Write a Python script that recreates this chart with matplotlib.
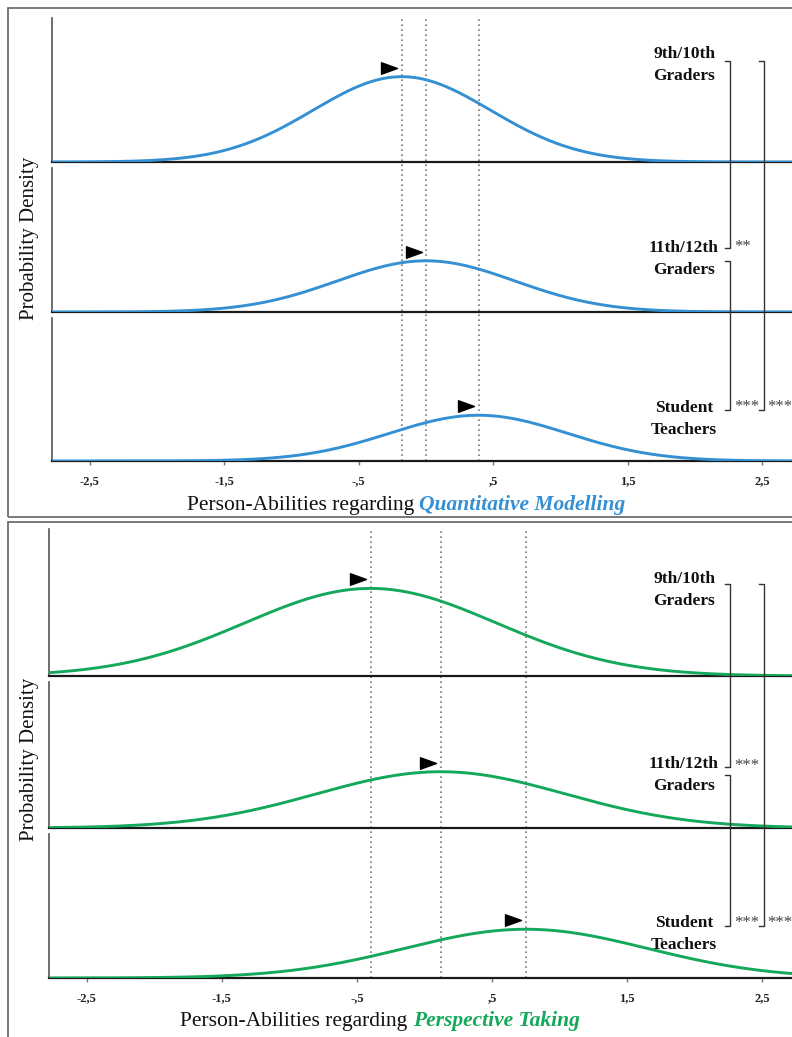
import numpy as np
import matplotlib
matplotlib.use("Agg")
import matplotlib.pyplot as plt
import matplotlib.transforms as mtransforms
from matplotlib.path import Path
from matplotlib.lines import Line2D
from matplotlib.patches import Rectangle
from matplotlib.offsetbox import TextArea, HPacker, AnnotationBbox

# ---- data -------------------------------------------------------------
groups = ["9th/10th\nGraders", "11th/12th\nGraders", "Student\nTeachers"]

qm_means = [-0.18, 0.00, 0.39]
qm_sds = [0.66, 0.66, 0.66]
qm_scale = [1.00, 0.60, 0.54]
qm_sig = ["**", "***", "***"]        # 9/10 vs 11/12, 11/12 vs ST, 9/10 vs ST

pt_means = [-0.40, 0.12, 0.75]
pt_sds = [0.93, 0.92, 0.90]
pt_scale = [1.00, 0.64, 0.55]
pt_sig = ["***", "***", "***"]

tick_values = [-2.5, -1.5, -0.5, 0.5, 1.5, 2.5]
tick_labels = ["-2,5", "-1,5", "-,5", ",5", "1,5", "2,5"]

# ---- figure ----------------------------------------------------------
W, H = 792, 1037
fig = plt.figure(figsize=(W / 100, H / 100), dpi=100)
SERIF = ["Liberation Serif", "DejaVu Serif"]


def fx(x):
    return x / W


def fy(y):
    return 1 - y / H


XLIM = (-2.78, 2.72)
tri = Path([(-1, 0.72), (1, 0), (-1, -0.72), (-1, 0.72)],
           [Path.MOVETO, Path.LINETO, Path.LINETO, Path.CLOSEPOLY])


def normal_pdf(x, m, s):
    return np.exp(-0.5 * ((x - m) / s) ** 2) / (s * np.sqrt(2 * np.pi))


def bracket(x, y0, y1, tick=5):
    xs = [fx(x - tick), fx(x), fx(x), fx(x - tick)]
    ys = [fy(y0), fy(y0), fy(y1), fy(y1)]
    fig.add_artist(Line2D(xs, ys, transform=fig.transFigure,
                          color="#333333", lw=1.0))


def panel(cfg, means, sds, scale, sig, color, topic):
    left = cfg["left"]
    rows = cfg["rows"]
    # overlay axes holding the dotted mean markers across all three rows
    ov = fig.add_axes([fx(left), fy(rows[-1][1]), 1 - fx(left),
                       fy(rows[0][0]) - fy(rows[-1][1])])
    ov.set_xlim(XLIM)
    ov.set_ylim(0, 1)
    ov.axis("off")
    for m in means:
        ov.axvline(m, color="#777777", lw=1.2, ls=(0, (1, 2.0)))

    x = np.linspace(XLIM[0], XLIM[1], 600)
    for i, (top, bot) in enumerate(rows):
        ax = fig.add_axes([fx(left), fy(bot), 1 - fx(left), fy(top) - fy(bot)])
        ax.patch.set_visible(False)
        ax.set_xlim(XLIM)
        ax.set_ylim(0, cfg["ymax"])
        for s in ("top", "right"):
            ax.spines[s].set_visible(False)
        ax.spines["left"].set_color("#555555")
        ax.spines["left"].set_linewidth(1.2)
        ax.spines["bottom"].set_color("#1a1a1a")
        ax.spines["bottom"].set_linewidth(1.6)
        ax.set_yticks([])
        y = scale[i] * normal_pdf(x, means[i], sds[i])
        ax.plot(x, y, color=color, lw=2.1, solid_capstyle="butt", zorder=3)
        peak = scale[i] * normal_pdf(means[i], means[i], sds[i])
        off = mtransforms.offset_copy(ax.transData, fig=fig, x=-9.0, y=6.5,
                                      units="points")
        ax.plot([means[i]], [peak], marker=tri, color="black", ms=11.5,
                transform=off, clip_on=False, zorder=4)
        if i < 2:
            ax.set_xticks([])
        else:
            ax.set_xticks(tick_values)
            ax.set_xticklabels(tick_labels, fontfamily=SERIF,
                               fontweight="bold", fontsize=9, color="#222222")
            ax.tick_params(axis="x", direction="out", length=3, width=1,
                           color="#777777", pad=7.5)

    # y label
    fig.text(fx(30), fy(cfg["ylabel_y"]), "Probability Density", rotation=90,
             ha="center", va="center", fontfamily=SERIF, fontsize=15,
             color="#111111")

    # x label with the coloured topic
    t1 = TextArea("Person-Abilities regarding ",
                  textprops=dict(fontfamily=SERIF, fontsize=15.5,
                                 color="#111111"))
    t2 = TextArea(topic, textprops=dict(fontfamily=SERIF, fontsize=15.5,
                                        color=color, fontweight="bold",
                                        fontstyle="italic"))
    box = HPacker(children=[t1, t2], align="baseline", pad=0, sep=0)
    fig.add_artist(AnnotationBbox(box, (fx(cfg["xlabel"][0]), fy(cfg["xlabel"][1])),
                                  xycoords="figure fraction", frameon=False,
                                  box_alignment=(0.5, 0.5)))

    # group labels
    for name, yc in zip(groups, cfg["label_y"]):
        fig.text(fx(684), fy(yc), name, ha="center", va="center",
                 fontfamily=SERIF, fontweight="bold", fontsize=12.5,
                 linespacing=1.45, color="#111111")

    # significance brackets
    b = cfg["brackets"]
    bracket(730, b[0], b[1])
    bracket(730, b[2], b[3])
    bracket(764, b[0], b[3])
    star_kw = dict(ha="left", va="center", fontfamily=SERIF, fontsize=12,
                   color="#444444")
    fig.text(fx(734), fy(b[1] - 1), sig[0], **star_kw)
    fig.text(fx(734), fy(b[3] - 3), sig[1], **star_kw)
    fig.text(fx(767), fy(b[3] - 3), sig[2], **star_kw)


top_cfg = dict(left=52, rows=[(18, 162), (168, 312), (318, 461)], ymax=1.02,
               ylabel_y=238, xlabel=(406, 505), label_y=[65, 259, 419],
               brackets=[61, 248, 261, 410])
bot_cfg = dict(left=49, rows=[(529, 676), (682, 828), (834, 978)], ymax=0.72,
               ylabel_y=759, xlabel=(380, 1021), label_y=[590, 775, 934],
               brackets=[584, 767, 775, 926])

panel(top_cfg, qm_means, qm_sds, qm_scale, qm_sig, "#3490d2",
      "Quantitative Modelling")
panel(bot_cfg, pt_means, pt_sds, pt_scale, pt_sig, "#14a85a",
      "Perspective Taking")

# outer frames around both panels
fig.add_artist(Rectangle((fx(8), fy(517)), 1.0, fy(8) - fy(517),
                         transform=fig.transFigure, fill=False,
                         ec="#6e6e6e", lw=1.3))
fig.add_artist(Rectangle((fx(8), -0.05), 1.0, fy(522) + 0.05,
                         transform=fig.transFigure, fill=False,
                         ec="#6e6e6e", lw=1.3))

fig.savefig("out.png", dpi=100)
